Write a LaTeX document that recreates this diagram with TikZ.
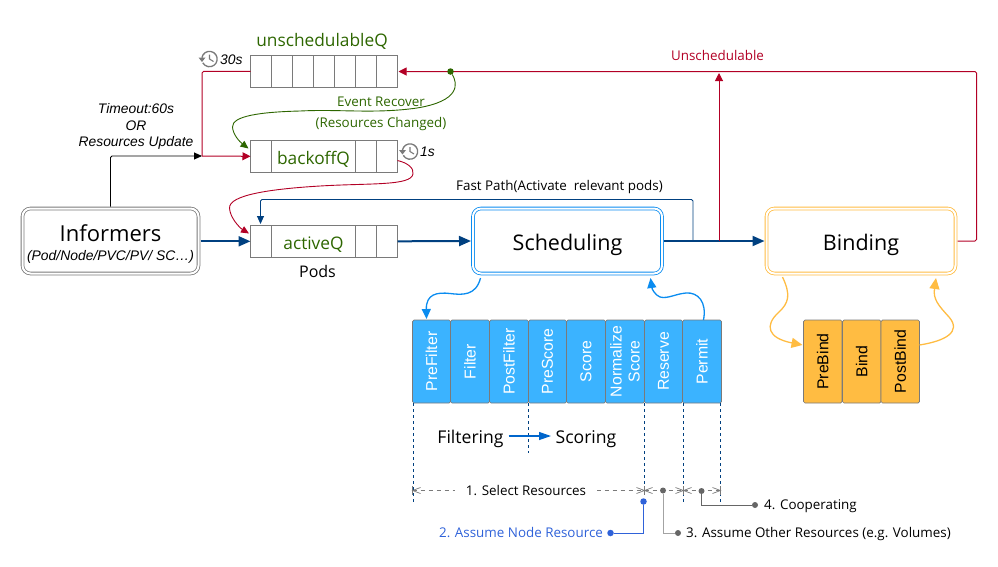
\documentclass[tikz,border=0pt]{standalone}
\usepackage{fontspec}
\setmainfont{Open Sans}
\newfontfamily\arialf{Liberation Sans}
\usetikzlibrary{arrows.meta,positioning,calc}
\definecolor{navyc}{HTML}{004080}
\definecolor{redc}{HTML}{B20025}
\definecolor{greenc}{HTML}{2D6600}
\definecolor{bluec}{HTML}{0A8CF0}
\definecolor{cellb}{HTML}{3BB3FF}
\definecolor{orangec}{HTML}{FFBC42}
\definecolor{grayc}{HTML}{7A7A7A}
\definecolor{assume}{HTML}{2F62D9}
\definecolor{dgray}{HTML}{666666}
\definecolor{flowc}{HTML}{0066CC}
\tikzset{
  qcell/.style={draw=grayc,line width=.8pt,minimum height=32pt,inner sep=0pt,outer sep=0pt,anchor=north west,font=\fontsize{17.3}{18}\selectfont,text=greenc},
  bigbox/.style={rounded corners=8pt,double=white,double distance=2pt,line width=.8pt,inner sep=0pt,outer sep=2pt,font=\fontsize{21.5}{24}\selectfont,align=center},
  plug/.style={draw=grayc,line width=.7pt,rounded corners=1.5pt,minimum height=83pt,inner sep=0pt,outer sep=0pt,anchor=north west},
  pluglabel/.style={rotate=90,font=\arialf\fontsize{15.8}{18}\selectfont,align=center},
  main/.style={draw=navyc,line width=2pt,-{Triangle[length=12pt,width=10pt]}},
  redl/.style={draw=redc,line width=1pt,rounded corners=1.5pt},
  redtip/.style={-{Triangle[length=8pt,width=8pt]}},
  vdash/.style={draw=navyc,line width=.7pt,dash pattern=on 3pt off 3pt},
  dimline/.style={draw=grayc,line width=.7pt,dash pattern=on 4pt off 4pt},
  dotg/.style={circle,fill=dgray,inner sep=0pt,minimum size=6pt},
  lab/.style={inner sep=0pt,font=\fontsize{13.4}{15}\selectfont},
  ital/.style={inner sep=0pt,font=\arialf\itshape\fontsize{13.85}{16.5}\selectfont,align=center},
}
\begin{document}
\begin{tikzpicture}[x=1pt,y=-1pt]
\useasboundingbox (0,0) rectangle (998,566);
% queues
\foreach \i [evaluate=\i as \xx using 250.5+21*\i] in {0,...,6}
  \node[qcell,minimum width=21pt] (u\i) at (\xx,55.3) {};
\node[anchor=base,inner sep=0pt,text=greenc,font=\fontsize{17.3}{19}\selectfont] (ulab) at (322,46) {unschedulableQ};
\node[qcell,minimum width=21pt] (b0) at (250.5,140.3) {};
\node[qcell,minimum width=84pt] (b1) at (271.5,140.3) {\raisebox{0pt}[15.4pt][0pt]{backoffQ}};
\node[qcell,minimum width=21pt] (b2) at (355.5,140.3) {};
\node[qcell,minimum width=21pt] (b3) at (376.5,140.3) {};
\node[qcell,minimum width=21pt] (a0) at (250.5,225.3) {};
\node[qcell,minimum width=84pt] (a1) at (271.5,225.3) {\raisebox{0pt}[16pt][0pt]{activeQ}};
\node[qcell,minimum width=21pt] (a2) at (355.5,225.3) {};
\node[qcell,minimum width=21pt] (a3) at (376.5,225.3) {};
\node[lab,font=\fontsize{16}{18}\selectfont] (pods) at (317.5,271) {Pods};
% main boxes
\node[bigbox,draw=grayc,minimum width=176pt,minimum height=65pt] (inf) at (110.5,241)
  {\rule{0pt}{19pt}\raisebox{-3pt}{\fontsize{22}{24}\selectfont Informers}\\[-2pt]{\arialf\itshape\fontsize{13.9}{15}\selectfont (Pod/Node/PVC/PV/ SC\dots)}};
\node[bigbox,draw=bluec,minimum width=189pt,minimum height=65pt] (sch) at (567.5,241) {\raisebox{0pt}[18pt][0pt]{Scheduling}};
\node[bigbox,draw=orangec,minimum width=189pt,minimum height=65pt] (bind) at (861,241) {\raisebox{0pt}[18pt][0pt]{Binding}};
% plugins
\foreach \n/\l/\w/\t in {p1/412.5/38/PreFilter,p2/450.5/39/Filter,p3/489.5/39/PostFilter,p4/528.5/38/PreScore,p5/566.5/39/Score,p6/605.5/39/{Normalize\\Score},p7/644.5/38/Reserve,p8/682.5/39/Permit}{
  \node[plug,fill=cellb,minimum width=\w pt] (\n) at (\l,320) {};
  \node[pluglabel,text=white] (\n t) at (\n.center) {\t};
}
\foreach \n/\l/\t in {o1/803.5/PreBind,o2/842.5/Bind,o3/881/PostBind}{
  \node[plug,fill=orangec,minimum width=38.5pt] (\n) at (\l,320) {};
  \node[pluglabel,text=black] (\n t) at (\n.center) {\t};
}
% helper coordinates
\coordinate (gdot) at (450.5,71.5);
\coordinate (rj) at (202,156);
\coordinate (fp) at (693,241);
\coordinate (us) at (719,241);
% main flow
\draw[main] (inf.east |- a0.west) -- (a0.west);
\draw[main] (a3.east) -- (sch.west);
\draw[main] (sch.east) -- (bind.west);
% fast path
\draw[navyc,line width=.9pt,rounded corners=1.5pt,-{Triangle[length=8pt,width=7pt]}] (fp) -- (693,199.5) -- (260.5,199.5) -- (260.5,224);
\node[lab] (fplab) at (559.5,187) {Fast Path(Activate\ \ relevant pods)};
% red
\draw[redl,redtip] (bind.east) -- (976.5,241) -- (976.5,71.5) -- (398.5,71.5);
\draw[redl,redtip] (us) -- (719,73);
\node[lab,text=redc] (unl) at (717.5,55) {Unschedulable};
\draw[redl] (u0.west) -- (202,71.5) -- (rj);
\draw[redl,redtip,rounded corners=0pt] (rj) -- (b0.west);
% black
\draw[black,line width=.9pt,rounded corners=1.5pt,-{Triangle[length=8pt,width=7pt]}] (inf.north) -- (110.5,156) -- (rj);
\node[ital] (tlab) at (136,126.5) {Timeout:60s\\OR\\Resources Update};
% green
\node[circle,fill=greenc,inner sep=0pt,minimum size=6.5pt] (gd) at (gdot) {};
\draw[greenc,line width=.9pt,-{Triangle[length=8pt,width=7pt]}] (gd) .. controls (458,84) and (460,101) .. (417,108)
  .. controls (375,114) and (340,109) .. (300,111) .. controls (260,112) and (232,116) .. (232.5,127) .. controls (233,135) and (240,142) .. (248.5,148.5);
\node[lab,text=greenc] (ev1) at (381,101.5) {Event Recover};
\node[lab,text=greenc] (ev2) at (381,124) {(Resources Changed)};
% backoff to active
\draw[redc,line width=.9pt,-{Triangle[length=8pt,width=7pt]}] (b3.east |- 0,160.5) .. controls (408,163) and (414,168) .. (413,174)
  .. controls (411,186) and (370,183) .. (320,186) .. controls (270,189) and (229,195) .. (229.5,208) .. controls (230,218) and (240,228) .. (249,233.5);
% blue curves
\draw[bluec,line width=1.3pt,-{Triangle[length=10pt,width=9pt]}] (480.5,278) .. controls (476,296) and (462,295) .. (450,293.5) .. controls (437,292) and (426,294) .. (426.5,319);
\draw[bluec,line width=1.3pt,-{Triangle[length=10pt,width=9pt]}] (703.5,320) .. controls (707,302) and (698,292) .. (686,293) .. controls (675,294) and (668,299) .. (660,297) .. controls (655,295) and (652,289) .. (650.5,278);
% orange curves
\draw[orangec,line width=1.3pt,-{Triangle[length=11pt,width=10pt]}] (782.5,277) .. controls (791,295) and (789,303) .. (778,313) .. controls (765,325) and (767,338) .. (802.5,345);
\draw[orangec,line width=1.3pt,-{Triangle[length=11pt,width=10pt]}] (o3.east |- 0,345) .. controls (945,341) and (962,332) .. (949,317) .. controls (938,305) and (933,299) .. (936,278);
% dashed verticals
\draw[vdash] (413.3,403) -- (413.3,504);
\draw[vdash] (528.5,403) -- (528.5,453);
\draw[vdash] (644.5,403) -- (644.5,494);
\draw[vdash] (683.5,403) -- (683.5,504);
\draw[vdash] (720.5,403) -- (720.5,504);
% filtering
\node[inner sep=0pt,font=\fontsize{17.6}{20}\selectfont] (flt) at (470.5,439) {Filtering};
\node[inner sep=0pt,font=\fontsize{17.6}{20}\selectfont] (scr) at (586,439) {Scoring};
\draw[draw=flowc,line width=1.2pt,-{Triangle[length=12pt,width=8pt]}] (508.5,436) -- (551,436);
% dimensions
\coordinate (d1) at (412.5,490.5);\coordinate (d2) at (644.5,490.5);\coordinate (d3) at (683.5,490.5);\coordinate (d4) at (720.5,490.5);
\draw[dimline] (d1) -- (d2);
\draw[dimline] (d2) -- (d3);
\draw[dimline] (d3) -- (d4);
\foreach \a in {d1,d2,d3}{\draw[grayc,line width=.7pt] (\a)+(0,-4.5) -- +(0,4.5);\draw[grayc,line width=.7pt] (\a)+(8,-3) -- +(0,0) -- +(8,3);}
\foreach \a in {d2,d3,d4}{\draw[grayc,line width=.7pt] (\a)+(0,-4.5) -- +(0,4.5);\draw[grayc,line width=.7pt] (\a)+(-8,-3) -- +(0,0) -- +(-8,3);}
\node[lab,fill=white,inner xsep=11pt,inner ysep=1pt] (l1) at (526,490) {1. Select Resources};
\node[circle,fill=assume,inner sep=0pt,minimum size=6.5pt] (bd1) at (643.5,501.5) {};
\node[circle,fill=assume,inner sep=0pt,minimum size=6.5pt] (bd2) at (610.5,533) {};
\node[lab,text=assume] (l2) at (521,532) {2. Assume Node Resource};
\draw[assume,line width=.9pt] (bd1) |- (bd2);
\node[dotg] (g1) at (663,490.5) {};
\node[dotg] (g2) at (678,533) {};
\node[lab,anchor=west] (l3) at (686,534) {3. Assume Other Resources (e.g. Volumes)};
\draw[dgray!60,line width=1pt] (g1) |- (g2);
\node[dotg] (g3) at (701.5,491) {};
\node[dotg] (g4) at (755,505) {};
\node[lab,anchor=west] (l4) at (764,506) {4. Cooperating};
\draw[dgray,line width=.9pt] (g3) |- (g4);
% clocks
\foreach \cx/\cy in {209.5/59,410/151.5}{
  \begin{scope}[shift={(\cx,\cy)}]
    \draw[grayc,line width=1.3pt] (-7.6,-1.3) arc[start angle=170,end angle=-150,radius=7.7pt];
    \fill[grayc] (-11,-1.5) -- (-4,-1.5) -- (-7.5,3) -- cycle;
    \draw[grayc,line width=1.1pt] (0,-4.5) -- (0,0) -- (4,2.5);
  \end{scope}}
\node[ital,anchor=west] (t30) at (220,59.5) {30s};
\node[ital,anchor=west] (t1) at (420,152) {1s};
\end{tikzpicture}
\end{document}
